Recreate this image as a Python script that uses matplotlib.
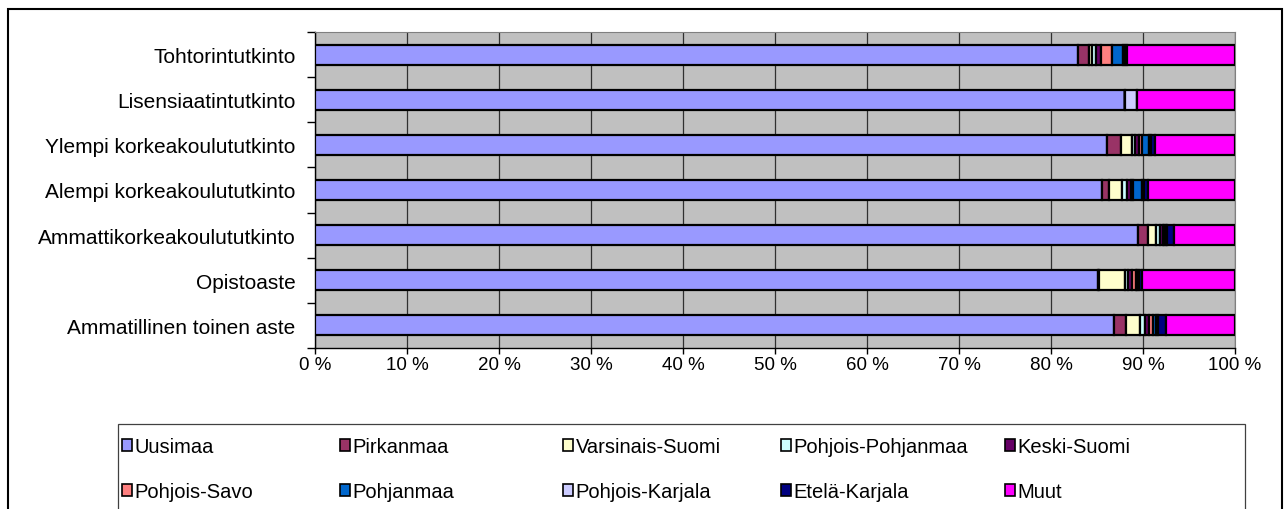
import matplotlib.pyplot as plt
import numpy as np
from matplotlib.patches import Rectangle
from matplotlib.ticker import FixedLocator

plt.rcParams['font.family'] = ['Liberation Sans', 'DejaVu Sans']

categories = ["Tohtorintutkinto", "Lisensiaatintutkinto", "Ylempi korkeakoulututkinto",
              "Alempi korkeakoulututkinto", "Ammattikorkeakoulututkinto", "Opistoaste",
              "Ammatillinen toinen aste"]

regions = ["Uusimaa", "Pirkanmaa", "Varsinais-Suomi", "Pohjois-Pohjanmaa", "Keski-Suomi",
           "Pohjois-Savo", "Pohjanmaa", "Pohjois-Karjala", "Etelä-Karjala", "Muut"]

uusimaa = [82.9, 88.0, 86.1, 85.5, 89.5, 85.1, 86.9]
pirkanmaa = [1.2, 0.0, 1.5, 0.8, 1.0, 0.1, 1.3]
varsinais_suomi = [0.4, 0.0, 1.2, 1.4, 0.9, 2.8, 1.5]
pohjois_pohjanmaa = [0.4, 0.0, 0.3, 0.6, 0.4, 0.4, 0.5]
keski_suomi = [0.5, 0.0, 0.5, 0.4, 0.4, 0.4, 0.5]
pohjois_savo = [1.2, 0.0, 0.3, 0.2, 0.1, 0.4, 0.4]
pohjanmaa = [1.2, 0.0, 0.7, 1.0, 0.2, 0.2, 0.3]
pohjois_karjala = [0.2, 1.4, 0.3, 0.2, 0.1, 0.2, 0.2]
etela_karjala = [0.3, 0.0, 0.4, 0.4, 0.8, 0.3, 0.9]
muut = [11.7, 10.6, 8.7, 9.5, 6.6, 10.1, 7.5]

series = [uusimaa, pirkanmaa, varsinais_suomi, pohjois_pohjanmaa, keski_suomi,
          pohjois_savo, pohjanmaa, pohjois_karjala, etela_karjala, muut]
colors = ["#9999FF", "#993366", "#FFFFCC", "#CCFFFF", "#660066",
          "#FF8080", "#0066CC", "#CCCCFF", "#000080", "#FF00FF"]

xticks = np.arange(0, 101, 10)
xlabels = [f"{v} %" for v in xticks]

fig = plt.figure(figsize=(12.87, 5.10), dpi=100)
ax = fig.add_axes([315/1287, 1 - 349/510, 920/1287, 316/510])
ax.set_facecolor("#C0C0C0")

y = np.arange(len(categories))[::-1]
left = np.zeros(len(categories))
handles = []
for vals, col, name in zip(series, colors, regions):
    vals = np.array(vals)
    b = ax.barh(y, vals, left=left, height=0.44, color=col, edgecolor="black",
                linewidth=1.6, label=name, zorder=3)
    handles.append(b)
    left = left + vals

ax.set_xlim(0, 100)
ax.set_ylim(-0.5, len(categories) - 0.5)
ax.set_xticks(xticks)
ax.set_xticklabels(xlabels, fontsize=13.5)
ax.set_yticks(y)
ax.set_yticklabels(categories, fontsize=15)
ax.tick_params(axis='y', which='major', length=0, pad=14)
ax.yaxis.set_minor_locator(FixedLocator(np.arange(-0.5, len(categories), 1)))
ax.tick_params(axis='y', which='minor', length=6, width=1, direction='out')
ax.tick_params(axis='x', length=4, width=1, pad=2)
ax.grid(axis='x', color="#303030", linewidth=0.9, zorder=0)
ax.set_axisbelow(True)
for s in ['top', 'right']:
    ax.spines[s].set_color("#808080")
for s in ['left', 'bottom']:
    ax.spines[s].set_color("black")
    ax.spines[s].set_linewidth(1.0)

# outer chart frame
fig.patches.append(Rectangle((8/1287, -0.1), 1274/1287, 1.1 - 10/510, transform=fig.transFigure,
                             fill=False, edgecolor="black", linewidth=1.5))
# legend frame
fig.patches.append(Rectangle((118/1287, -0.1), 1127/1287, 0.1 + 1 - 425/510,
                             transform=fig.transFigure, fill=False, edgecolor="#404040",
                             linewidth=0.9))

col_x = [122, 340, 563, 781, 1005]
for i, cx in enumerate(col_x):
    hs = [handles[i], handles[i + 5]]
    labs = [regions[i], regions[i + 5]]
    leg = fig.legend(hs, labs, loc='upper left', bbox_to_anchor=(cx/1287, 1 - 438/510),
                     frameon=False, fontsize=14.5, handlelength=0.5, handleheight=0.5,
                     handletextpad=0.12, borderpad=0, borderaxespad=0, labelspacing=1.3)
    for h in leg.legend_handles:
        h.set_linewidth(1.2)

fig.savefig("out.png", dpi=100)
